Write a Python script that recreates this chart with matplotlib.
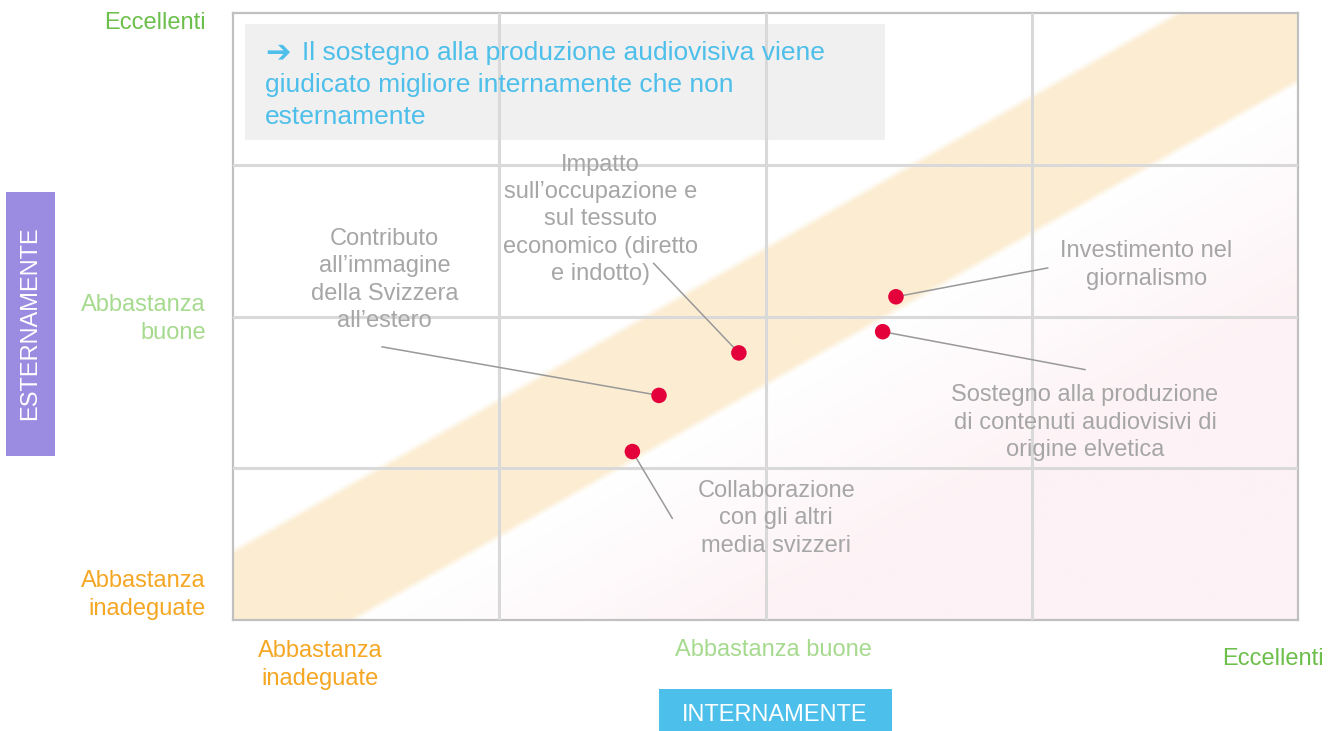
import numpy as np
import matplotlib
matplotlib.use("Agg")
import matplotlib.pyplot as plt
from matplotlib.patches import Rectangle

plt.rcParams['font.family'] = ['Liberation Sans', 'DejaVu Sans']

# data (scale 0-4 on both axes)
labels = ["Impatto\nsull’occupazione e\nsul tessuto\neconomico (diretto\ne indotto)",
          "Contributo\nall’immagine\ndella Svizzera\nall’estero",
          "Collaborazione\ncon gli altri\nmedia svizzeri",
          "Investimento nel\ngiornalismo",
          "Sostegno alla produzione\ndi contenuti audiovisivi di\norigine elvetica"]
internal = [1.90, 1.60, 1.50, 2.49, 2.44]
external = [1.76, 1.48, 1.11, 2.13, 1.90]

x_ticklabels = ["Abbastanza\ninadeguate", "Abbastanza buone", "Eccellenti"]
y_ticklabels = ["Abbastanza\ninadeguate", "Abbastanza\nbuone", "Eccellenti"]
tick_colors = ["#F5A623", "#A6DA8E", "#6CBF4B"]

title_lines = ["Il sostegno alla produzione audiovisiva viene",
               "giudicato migliore internamente che non",
               "esternamente"]

# layout: label centres and leader-line start points (data units)
label_pos = [(1.38, 2.64), (0.57, 2.24), (2.04, 0.67), (3.43, 2.34), (3.20, 1.30)]
leader_start = [(1.58, 2.35), (0.56, 1.80), (1.65, 0.67), (3.06, 2.32), (3.20, 1.65)]

W, H = 1328, 731
fig = plt.figure(figsize=(W / 100, H / 100), dpi=100)
ax = fig.add_axes([233 / W, (H - 620) / H, 1065 / W, 607 / H])
ax.set_xlim(0, 4)
ax.set_ylim(0, 4)

# background: diagonal band + faint pink in lower-right
gx, gy = np.meshgrid(np.linspace(0, 4, 800), np.linspace(0, 4, 500))
d = gy - gx
band = np.clip((0.45 - np.abs(d)) / 0.05 + 0.5, 0, 1)
pink = np.clip((-d - 0.5) / 1.5, 0, 1)
img = np.ones((500, 800, 3))
pink_c = np.array([253, 242, 245]) / 255
band_c = np.array([252, 237, 210]) / 255
img = img * (1 - pink[..., None]) + pink_c * pink[..., None]
img = img * (1 - band[..., None]) + band_c * band[..., None]
ax.imshow(img, extent=[0, 4, 0, 4], origin='lower', aspect='auto', zorder=0)

ax.set_xticks([1, 2, 3])
ax.set_yticks([1, 2, 3])
ax.tick_params(length=0, labelbottom=False, labelleft=False)
ax.grid(True, color="#D9D9D9", linewidth=2.2, zorder=1)
ax.set_axisbelow(False)
for s in ax.spines.values():
    s.set_color("#C0C0C0")
    s.set_linewidth(1.6)

# title box
ax.add_patch(Rectangle((12 / 1065, 480 / 607), 640 / 1065, 116 / 607, transform=ax.transAxes,
                       facecolor="#F0F0F0", edgecolor='none', zorder=2))
ax.text(32 / 1065, 1 - 40 / 607, "➔", transform=ax.transAxes, ha='left', va='center',
        color="#4DBFEA", fontsize=22, fontweight='bold', zorder=3)
ax.text(69 / 1065, 1 - 40 / 607, title_lines[0], transform=ax.transAxes, ha='left',
        va='center', color="#4DBFEA", fontsize=19, zorder=3)
ax.text(32 / 1065, 1 - 88 / 607, "\n".join(title_lines[1:]), transform=ax.transAxes,
        ha='left', va='center', color="#4DBFEA", fontsize=19, linespacing=1.42, zorder=3)

# leader lines, labels, points
for i in range(len(labels)):
    ax.plot([leader_start[i][0], internal[i]], [leader_start[i][1], external[i]],
            color="#999999", linewidth=1.1, zorder=3)
    ax.text(label_pos[i][0], label_pos[i][1], labels[i], ha='center', va='center',
            color="#A6A6A6", fontsize=17, linespacing=1.32, zorder=3)
ax.scatter(internal, external, s=125, color="#E4003B", edgecolor='none', zorder=4)

# axis category labels
def ftext(px, py, s, **kw):
    fig.text(px / W, 1 - py / H, s, **kw)

xpos = [(320, 665), (773, 650), (1273, 659)]
ypos = [(206, 595), (206, 319), (206, 23)]
for (px, py), s, c in zip(xpos, x_ticklabels, tick_colors):
    ftext(px, py, s, ha='center', va='center', color=c, fontsize=17, linespacing=1.32)
for (px, py), s, c in zip(ypos, y_ticklabels, tick_colors):
    ftext(px, py, s, ha='right', va='center', color=c, fontsize=17, linespacing=1.32)

# axis title boxes
fig.patches.append(Rectangle((659 / W, 0), 233 / W, 42 / H, transform=fig.transFigure,
                             facecolor="#4DBFEB", edgecolor='none'))
ftext(775, 715, "INTERNAMENTE", ha='center', va='center', color='white', fontsize=17)
fig.patches.append(Rectangle((6 / W, 1 - 456 / H), 49 / W, 264 / H, transform=fig.transFigure,
                             facecolor="#9B8CE2", edgecolor='none'))
ftext(30, 323, "ESTERNAMENTE", ha='center', va='center', color='white', fontsize=17,
      rotation=90)

fig.savefig("out.png", dpi=100)
